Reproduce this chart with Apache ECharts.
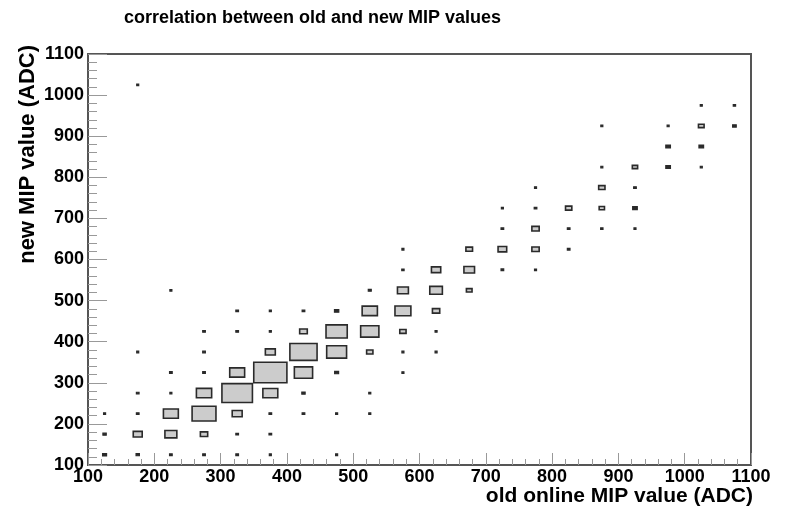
<!DOCTYPE html>
<html>
<head>
<meta charset="utf-8">
<script src="https://cdn.jsdelivr.net/npm/echarts@6/dist/echarts.min.js"></script>
<style>
  html, body { margin: 0; padding: 0; background: #ffffff; }
  #chart { width: 789px; height: 515px; }
</style>
</head>
<body>
<div id="chart"></div>
<script>
// 2D histogram, 50 ADC bins on both axes, drawn as boxes sized by bin content.
const BIN = 50;
const AXIS_MIN = 100;
const AXIS_MAX = 1100;
const AXIS_STEP = 100;

// Bin centres on the "new MIP value" axis, one entry per filled row.
const rowY = [125, 175, 225, 275, 325, 375, 425, 475, 525, 575, 625, 675, 725, 775, 825, 875, 925, 975, 1025];

// Bin centres on the "old online MIP value" axis for each row.
const rowX = [
  [125, 175, 225, 275, 325, 375, 475],
  [125, 175, 225, 275, 325, 375],
  [125, 175, 225, 275, 325, 375, 425, 475, 525],
  [175, 225, 275, 325, 375, 425, 525],
  [225, 275, 325, 375, 425, 475, 575],
  [175, 275, 375, 425, 475, 525, 575, 625],
  [275, 325, 375, 425, 475, 525, 575, 625],
  [325, 375, 425, 475, 525, 575, 625],
  [225, 525, 575, 625, 675],
  [575, 625, 675, 725, 775],
  [575, 675, 725, 775, 825],
  [725, 775, 825, 875, 925],
  [725, 775, 825, 875, 925],
  [775, 875, 925],
  [875, 925, 975, 1025],
  [975, 1025],
  [875, 975, 1025, 1075],
  [1025, 1075],
  [175]
];

// Bin contents for each row (same order as rowX).
const rowN = [
  [12, 10, 8, 8, 8, 6, 6],
  [10, 27, 36, 22, 8, 8],
  [6, 8, 45, 72, 30, 8, 8, 6, 6],
  [8, 6, 46, 92, 45, 10, 6],
  [8, 8, 45, 100, 55, 12, 6],
  [6, 8, 30, 82, 60, 19, 6, 6],
  [8, 8, 6, 23, 64, 55, 19, 6],
  [8, 6, 8, 13, 46, 48, 22],
  [6, 9, 33, 38, 17],
  [7, 28, 32, 8, 5],
  [6, 20, 26, 22, 8],
  [8, 22, 8, 7, 6],
  [5, 8, 19, 16, 14],
  [5, 19, 8],
  [6, 16, 14, 5],
  [14, 14],
  [6, 6, 17, 11],
  [6, 7],
  [5]
];

const TITLE = 'correlation between old and new MIP values';
const X_TITLE = 'old online MIP value (ADC)';
const Y_TITLE = 'new MIP value (ADC)';

const cells = [];
rowY.forEach((y, r) => {
  rowX[r].forEach((x, k) => cells.push([x, y, rowN[r][k]]));
});
const nMax = Math.max(...cells.map(c => c[2]));

const FONT = '"Liberation Sans", Arial, Helvetica, sans-serif';
const EDGE = '#2a2a2a';

const chart = echarts.init(document.getElementById('chart'), null, { renderer: 'canvas' });

const axisCommon = {
  type: 'value',
  min: AXIS_MIN,
  max: AXIS_MAX,
  interval: AXIS_STEP,
  splitLine: { show: false },
  axisLine: { show: true, lineStyle: { color: '#555', width: 2 } },
  axisLabel: {
    color: '#000', fontSize: 18, fontWeight: 'bold', fontFamily: FONT,
    formatter: v => String(v)
  },
  axisTick: { show: true, inside: true, lineStyle: { color: '#999', width: 1 } },
  minorTick: { show: true, splitNumber: 5, lineStyle: { color: '#999', width: 1 } }
};

chart.setOption({
  animation: false,
  backgroundColor: '#ffffff',
  title: {
    text: TITLE,
    left: 119,
    top: 4,
    textStyle: { color: '#000', fontSize: 18, fontWeight: 'bold', fontFamily: FONT }
  },
  grid: {
    left: 88, right: 38, top: 54, bottom: 50,
    show: true, borderColor: '#555', borderWidth: 2, backgroundColor: 'transparent'
  },
  xAxis: Object.assign({}, axisCommon, {
    axisLabel: Object.assign({}, axisCommon.axisLabel, { margin: 3 }),
    axisTick: Object.assign({}, axisCommon.axisTick, { length: 12 }),
    minorTick: Object.assign({}, axisCommon.minorTick, { length: 6 })
  }),
  yAxis: Object.assign({}, axisCommon, {
    axisLabel: Object.assign({}, axisCommon.axisLabel, { margin: 4 }),
    axisTick: Object.assign({}, axisCommon.axisTick, { length: 19 }),
    minorTick: Object.assign({}, axisCommon.minorTick, { length: 9 })
  }),
  graphic: [
    {
      type: 'text',
      right: 36,
      top: 486,
      style: { text: X_TITLE, fill: '#000', font: 'bold 21px ' + FONT }
    },
    {
      type: 'text',
      x: 28,
      y: 45,
      rotation: Math.PI / 2,
      style: {
        text: Y_TITLE, fill: '#000', font: 'bold 22px ' + FONT,
        align: 'right', verticalAlign: 'middle'
      }
    }
  ],
  series: [{
    type: 'custom',
    clip: true,
    data: cells,
    encode: { x: 0, y: 1 },
    renderItem: function (params, api) {
      const c = api.coord([api.value(0), api.value(1)]);
      const s = api.size([BIN, BIN]);
      const f = api.value(2) / nMax;
      let w = s[0] * f;
      let h = s[1] * f;
      // Boxes too small to show their fill are drawn solid, with a minimum footprint.
      const solid = w < 5;
      if (solid) {
        w = Math.max(w, 2);
        h = Math.max(h, 1.6);
      }
      return {
        type: 'rect',
        shape: { x: c[0] - w / 2, y: c[1] - h / 2, width: w, height: h },
        style: { fill: solid ? EDGE : '#cccccc', stroke: EDGE, lineWidth: solid ? 1.2 : 1.6 }
      };
    }
  }]
});
</script>
</body>
</html>
